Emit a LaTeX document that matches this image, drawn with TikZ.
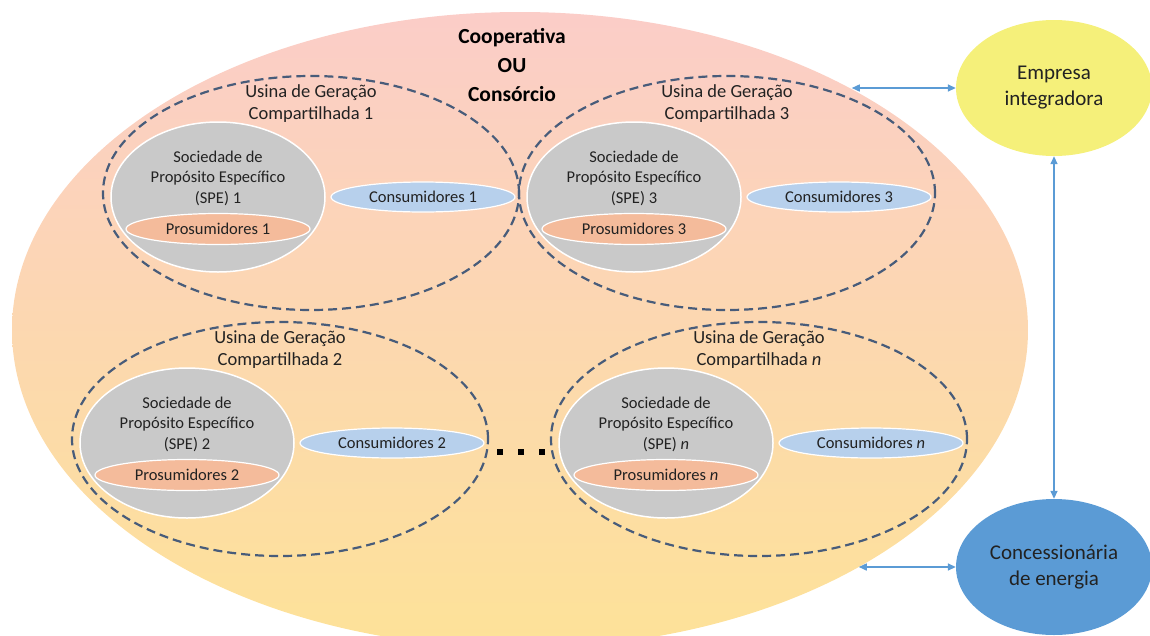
\documentclass[tikz,border=0pt]{standalone}
\usepackage{fontspec}
\setmainfont{Carlito}
\usetikzlibrary{shapes.geometric,arrows.meta}

\definecolor{bigtop}{RGB}{251,205,200}
\definecolor{bigmid}{RGB}{252,216,182}
\definecolor{bigbot}{RGB}{253,226,152}
\definecolor{dashline}{RGB}{72,92,122}
\definecolor{spegray}{RGB}{201,201,201}
\definecolor{prosal}{RGB}{244,187,155}
\definecolor{conblue}{RGB}{183,208,236}
\definecolor{empyellow}{RGB}{245,240,122}
\definecolor{concblue}{RGB}{91,155,213}
\definecolor{arrowblue}{RGB}{91,155,213}
\definecolor{textdark}{RGB}{34,34,34}

\tikzset{
  bigell/.style={ellipse, inner sep=0, minimum width=1016, minimum height=636,
    top color=bigtop, middle color=bigmid, bottom color=bigbot},
  usina/.style={ellipse, draw=dashline, line width=2.2pt, dash pattern=on 9pt off 5pt,
    inner sep=0, minimum width=416, minimum height=234},
  spe/.style={ellipse, fill=spegray, draw=white, line width=1.5pt, inner sep=0,
    minimum width=214, minimum height=150},
  pros/.style={ellipse, fill=prosal, draw=white, line width=1.2pt, inner sep=0,
    minimum width=184, minimum height=31, text=textdark,
    font=\fontsize{16.5}{20}\selectfont},
  cons/.style={ellipse, fill=conblue, draw=white, line width=1.2pt, inner sep=0,
    minimum width=184, minimum height=30, text=textdark,
    font=\fontsize{16.5}{20}\selectfont},
  lbl/.style={align=center, inner sep=0, text=textdark,
    font=\fontsize{18.5}{22}\selectfont},
  spetext/.style={align=center, inner sep=0, text=textdark,
    font=\fontsize{16.5}{20.5}\selectfont},
  title/.style={align=center, inner sep=0, text=black,
    font=\fontsize{21.5}{29}\selectfont\bfseries},
  party/.style={ellipse, inner sep=0, minimum width=196, minimum height=136,
    align=center, text=textdark, font=\fontsize{21}{26}\selectfont},
  conn/.style={draw=arrowblue, line width=1.5pt,
    {Triangle[length=8pt,width=7pt]}-{Triangle[length=8pt,width=7pt]}},
  dotsq/.style={rectangle, fill=black, inner sep=0, minimum size=6.5},
}

% one shared-generation plant: dashed outline, SPE with prosumers, consumers
\newcommand{\usinagroup}[4]{%
  \begin{scope}[shift={(#2,#3)}]
    \node[usina] (usina#1) at (0,0) {};
    \node[lbl] (usina#1lbl) at (0,-89) {Usina de Geração\\Compartilhada #4};
    \node[spe] (spe#1) at (-93,4) {};
    \node[spetext] (spe#1lbl) at (-93,-15) {Sociedade de\\Propósito Específico\\(SPE) #4};
    \node[pros] (pros#1) at (-93,36) {Prosumidores #4};
    \node[cons] (cons#1) at (112,4) {Consumidores #4};
  \end{scope}}

\begin{document}
\begin{tikzpicture}[x=1pt,y=-1pt]
  \useasboundingbox (0,0) rectangle (1150,635);
  \clip (0,0) rectangle (1150,635);

  % cooperative / consortium
  \node[bigell] (big) at (520,330) {};
  \node[title] (coop) at (512,65) {Cooperativa\\OU\\Consórcio};

  % plants
  \usinagroup{1}{311}{193}{1}
  \usinagroup{3}{727}{193}{3}
  \usinagroup{2}{280}{439}{2}
  \usinagroup{n}{759}{439}{\textit{n}}

  % ellipsis between plant 2 and plant n
  \node[dotsq] (dot1) at (500,452) {};
  \node[dotsq] (dot2) at (521,452) {};
  \node[dotsq] (dot3) at (542,452) {};

  % external parties
  \node[party, fill=empyellow] (emp) at (1054,88) {Empresa\\integradora};
  \node[party, fill=concblue] (conc) at (1054,567) {Concessionária\\de energia};

  % relations
  \draw[conn] (emp.west -| big.36.2) -- (emp.west);
  \draw[conn] (conc.west -| big.-35.2) -- (conc.west);
  \draw[conn] (emp.south) -- (conc.north);
\end{tikzpicture}
\end{document}
